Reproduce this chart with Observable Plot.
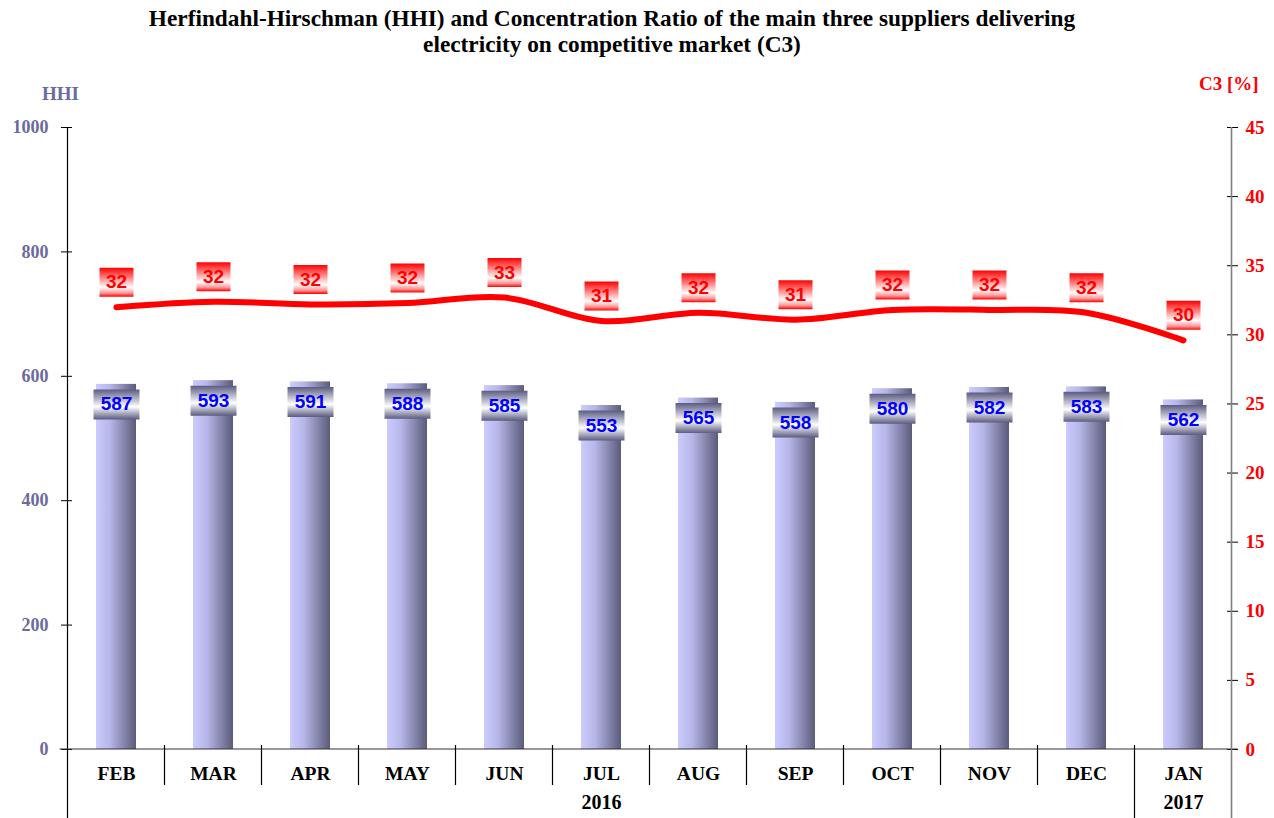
<!DOCTYPE html>
<html>
<head>
<meta charset="utf-8">
<script src="https://cdn.jsdelivr.net/npm/d3@7"></script>
<script src="https://cdn.jsdelivr.net/npm/@observablehq/plot@0.6"></script>
<style>
  body { margin: 0; background: #fff; }
  #wrap { position: relative; width: 1274px; height: 818px; }
  #title { position: absolute; left: 0; top: 5px; width: 1224px; text-align: center;
    font-family: "Liberation Serif", serif; font-weight: bold; font-size: 23.3px; line-height: 26px; color: #000; }
  .axlab { position: absolute; font-family: "Liberation Serif", serif; font-weight: bold; font-size: 19px; }
</style>
</head>
<body>
<div id="wrap">
  <div id="title">Herfindahl-Hirschman (HHI) and Concentration Ratio of the main three suppliers delivering<br>electricity on competitive market (C3)</div>
  <div class="axlab" style="left:42px; top:83px; color:#6b6b9c;">HHI</div>
  <div class="axlab" style="left:1199px; top:73px; color:#ff0000;">C3 [%]</div>
  <div id="chart"></div>
</div>
<script>
const months = ["FEB","MAR","APR","MAY","JUN","JUL","AUG","SEP","OCT","NOV","DEC","JAN"];
const years = ["2016","2016","2016","2016","2016","2016","2016","2016","2016","2016","2016","2017"];
const hhi = [587, 593, 591, 588, 585, 553, 565, 558, 580, 582, 583, 562];
const c3 = [32.0, 32.4, 32.2, 32.3, 32.7, 31.0, 31.6, 31.1, 31.8, 31.8, 31.6, 29.6];
const c3Labels = [32, 32, 32, 32, 33, 31, 32, 31, 32, 32, 32, 30];
const hhiTicks = [0, 200, 400, 600, 800, 1000];
const c3Ticks = [0, 5, 10, 15, 20, 25, 30, 35, 40, 45];
const c3Max = 45, hhiMax = 1000;
const k = hhiMax / c3Max;

const data = months.map((m, i) => ({month: m, year: years[i], hhi: hhi[i], c3: c3[i], c3Label: c3Labels[i]}));
const yearGroups = Array.from(d3.group(data, d => d.year), ([year, rows]) => ({year, month: rows[Math.floor((rows.length - 1) / 2)].month}));

const boxSymbol = (w, h) => ({draw(ctx) { ctx.rect(-w / 2, -h / 2, w, h); }});
const HHIC = "#6b6b9c";

const plot = Plot.plot({
  width: 1274, height: 818,
  marginTop: 127, marginBottom: 69, marginLeft: 67, marginRight: 43,
  x: {domain: months, paddingInner: 0.59, paddingOuter: 0.295, axis: null},
  y: {domain: [0, hhiMax], axis: null},
  style: {fontFamily: "Liberation Serif, serif", background: "#fff"},
  marks: [
    Plot.barY(data, {x: "month", y: "hhi", fill: "url(#barGrad)"}),
    Plot.axisY(hhiTicks, {anchor: "left", label: null, tickSize: 11, dx: 5, tickFormat: () => "", stroke: "#000"}),
    Plot.axisY(hhiTicks, {anchor: "left", label: null, tickSize: 0, tickPadding: 19, tickFormat: d3.format("d"), fill: HHIC, fontWeight: "bold", fontSize: 18}),
    Plot.axisY(c3Ticks.map(v => v * k), {anchor: "right", label: null, tickSize: 11, dx: -5, tickFormat: () => "", stroke: "#000"}),
    Plot.axisY(c3Ticks.map(v => v * k), {anchor: "right", label: null, tickSize: 0, tickPadding: 14, tickFormat: d => Math.round(d / k), fill: "#ff0000", fontWeight: "bold", fontSize: 19}),
    Plot.axisX(months, {anchor: "bottom", label: null, tickSize: 0, tickPadding: 17, fill: "#000", fontWeight: "bold", fontSize: 19.5}),
    Plot.text(yearGroups, {x: "month", text: "year", frameAnchor: "bottom", dy: 59, fill: "#000", fontWeight: "bold", fontSize: 20}),
    Plot.line(data, {x: "month", y: d => d.c3 * k, stroke: "#ff0000", strokeWidth: 6, curve: "catmull-rom", strokeLinecap: "round", strokeLinejoin: "round"}),
    Plot.dot(data, {x: "month", y: "hhi", dy: 20, r: 20, symbol: boxSymbol(46, 30), fill: "url(#boxGrad)", stroke: "none"}),
    Plot.text(data, {x: "month", y: "hhi", dy: 20, text: d => String(d.hhi), fill: "#0000ff", fontWeight: "bold", fontSize: 19, fontFamily: "Liberation Sans, Arial, sans-serif"}),
    Plot.dot(data, {x: "month", y: d => d.c3 * k, dy: -25, r: 20, symbol: boxSymbol(34, 29), fill: "url(#redGrad)", stroke: "none"}),
    Plot.text(data, {x: "month", y: d => d.c3 * k, dy: -25, text: d => String(d.c3Label), fill: "#ff0000", fontWeight: "bold", fontSize: 19, fontFamily: "Liberation Sans, Arial, sans-serif"})
  ]
});

const svg = d3.select(plot);
const defs = svg.insert("defs", ":first-child");
const bg = defs.append("linearGradient").attr("id", "barGrad").attr("x1", 0).attr("x2", 1).attr("y1", 0).attr("y2", 0);
[[0, "#cbcbff"], [0.35, "#b6b6e8"], [1, "#5b5b7a"]].forEach(([o, c]) => bg.append("stop").attr("offset", o).attr("stop-color", c));
const bx = defs.append("linearGradient").attr("id", "boxGrad").attr("x1", 0).attr("x2", 0).attr("y1", 0).attr("y2", 1);
[[0, "#5b5b80"], [0.58, "#ffffff"], [1, "#5b5b80"]].forEach(([o, c]) => bx.append("stop").attr("offset", o).attr("stop-color", c));
const rg = defs.append("linearGradient").attr("id", "redGrad").attr("x1", 0).attr("x2", 0).attr("y1", 0).attr("y2", 1);
[[0, "#ff0000"], [0.68, "#ffffff"], [0.88, "#ff9090"], [1, "#ff0000"]].forEach(([o, c]) => rg.append("stop").attr("offset", o).attr("stop-color", c));

// structural axis lines from the Plot scales
const xs = plot.scale("x"), ys = plot.scale("y");
const step = xs.step;
const x0 = xs.apply(months[0]) - (step - xs.bandwidth) / 2;
const y0 = ys.apply(0), yTop = ys.apply(hhiMax);
const xEnd = x0 + step * months.length;
const g = svg.append("g").attr("fill", "none");
g.append("line").attr("x1", x0 - 8).attr("x2", xEnd + 6).attr("y1", y0).attr("y2", y0).attr("stroke", "#333").attr("stroke-width", 1.2);
g.append("line").attr("x1", x0).attr("x2", x0).attr("y1", yTop).attr("y2", 818).attr("stroke", "#000").attr("stroke-width", 1.2);
g.append("line").attr("x1", xEnd).attr("x2", xEnd).attr("y1", yTop).attr("y2", 818).attr("stroke", "#808080").attr("stroke-width", 1.6);
months.slice(1).forEach((m, i) => {
  const x = x0 + step * (i + 1);
  const yearChange = years[i + 1] !== years[i];
  g.append("line").attr("x1", x).attr("x2", x).attr("y1", y0 - 4).attr("y2", yearChange ? 818 : y0 + 36).attr("stroke", "#000").attr("stroke-width", 1.2);
});

document.getElementById("chart").append(plot);
</script>
</body>
</html>
